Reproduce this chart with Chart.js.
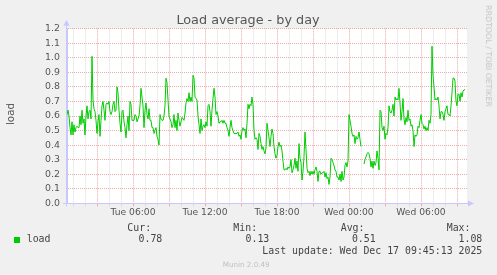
<!DOCTYPE html>
<html lang="en">
<head>
    <meta charset="UTF-8">
    <title>Load average - by day</title>
    <script src="https://cdn.jsdelivr.net/npm/chart.js"></script>
    <style>
        body {
            margin: 0;
            background-color: #f0f0f0;
        }
        .graph {
            position: relative;
            width: 497px;
            height: 275px;
            font-family: "DejaVu Sans", sans-serif;
            color: #555;
        }
        .graph canvas {
            position: absolute;
            left: 0;
            top: 0;
        }
        .txt {
            position: absolute;
            white-space: nowrap;
            line-height: 1;
        }
        .mono {
            font-family: "DejaVu Sans Mono", monospace;
            font-size: 9.9px;
            color: #444;
        }
        .right {
            text-align: right;
        }
    </style>
</head>
<body>
    <div class="graph">
        <canvas id="loadChart" width="497" height="275"></canvas>

        <!-- title and side texts -->
        <div class="txt" style="left:248px; top:14.2px; font-size:12.8px; transform:translateX(-50%);">Load average - by day</div>
        <div class="txt" style="left:9.5px; top:114px; font-size:10.3px; transform:translate(-50%,-50%) rotate(-90deg);">load</div>
        <div class="txt" style="left:488px; top:56px; font-size:7.9px; color:#c4c4c4; transform:translate(-50%,-50%) rotate(90deg);">RRDTOOL / TOBI OETIKER</div>

        <!-- legend -->
        <div style="position:absolute; left:14px; top:236.5px; width:6px; height:6px; background:#00cc00;"></div>
        <div class="txt mono" style="left:26.7px; top:234.3px;">load</div>
        <div class="txt mono" style="left:127.3px; top:222.6px;">Cur:</div>
        <div class="txt mono" style="left:233.3px; top:222.6px;">Min:</div>
        <div class="txt mono" style="left:340.7px; top:222.6px;">Avg:</div>
        <div class="txt mono" style="left:446.7px; top:222.6px;">Max:</div>
        <div class="txt mono right" style="right:334.7px; top:234.3px;">0.78</div>
        <div class="txt mono right" style="right:227.7px; top:234.3px;">0.13</div>
        <div class="txt mono right" style="right:121.3px; top:234.3px;">0.51</div>
        <div class="txt mono right" style="right:14.7px; top:234.3px;">1.08</div>
        <div class="txt mono right" style="right:14.7px; top:246.1px;">Last update: Wed Dec 17 09:45:13 2025</div>
        <div class="txt" style="left:222.7px; top:261.2px; font-size:7.2px; color:#c0c0c0;">Munin 2.0.49</div>
    </div>

    <script>
        // 5-minute samples, first one at Tue 00:30
        const startHour = 0.5;
        const stepHours = 5 / 60;
        const loadValues = [
            0.61, 0.64, 0.60, 0.52, 0.47, 0.56, 0.47, 0.54, 0.49, 0.52,
            0.53, 0.52, 0.52, 0.60, 0.54, 0.64, 0.55, 0.58, 0.47, 0.60,
            0.67, 0.58, 0.63, 0.64, 0.58, 1.01, 0.71, 0.65, 0.63, 0.57,
            0.48, 0.56, 0.61, 0.46, 0.57, 0.67, 0.70, 0.64, 0.57, 0.68,
            0.69, 0.68, 0.70, 0.63, 0.61, 0.63, 0.68, 0.70, 0.63, 0.64,
            0.80, 0.76, 0.64, 0.55, 0.49, 0.63, 0.64, 0.56, 0.52, 0.45,
            0.54, 0.60, 0.50, 0.70, 0.68, 0.57, 0.57, 0.57, 0.61, 0.60,
            0.56, 0.58, 0.60, 0.67, 0.79, 0.73, 0.67, 0.52, 0.64, 0.69,
            0.61, 0.58, 0.65, 0.57, 0.57, 0.52, 0.52, 0.48, 0.50, 0.52,
            0.46, 0.44, 0.40, 0.61, 0.58, 0.57, 0.57, 0.60, 0.67, 0.86,
            // Tue ~08:50
            0.83, 0.71, 0.60, 0.58, 0.56, 0.52, 0.54, 0.61, 0.52, 0.57,
            0.50, 0.62, 0.57, 0.53, 0.56, 0.59, 0.58, 0.57, 0.62, 0.69,
            0.72, 0.70, 0.76, 0.70, 0.73, 0.70, 0.88, 0.86, 0.73, 0.72,
            0.71, 0.60, 0.54, 0.48, 0.58, 0.50, 0.53, 0.54, 0.52, 0.56,
            0.53, 0.67, 0.68, 0.63, 0.53, 0.64, 0.72, 0.79, 0.73, 0.61,
            0.63, 0.60, 0.55, 0.56, 0.56, 0.57, 0.55, 0.57, 0.55, 0.55,
            0.52, 0.50, 0.46, 0.52, 0.57, 0.52, 0.50, 0.48, 0.48, 0.48,
            0.48, 0.49, 0.46, 0.47, 0.44, 0.50, 0.52, 0.50, 0.51, 0.45,
            0.55, 0.68, 0.65, 0.68, 0.67, 0.73, 0.68, 0.50, 0.44, 0.45,
            0.44, 0.37, 0.48, 0.46, 0.41, 0.37, 0.39, 0.36, 0.34, 0.38,
            // Tue ~17:10
            0.55, 0.50, 0.45, 0.39, 0.46, 0.51, 0.48, 0.39, 0.34, 0.31,
            0.33, 0.39, 0.42, 0.39, 0.40, 0.36, 0.29, 0.23, 0.23, 0.24,
            0.23, 0.25, 0.24, 0.25, 0.30, 0.21, 0.23, 0.26, 0.31, 0.24,
            0.29, 0.22, 0.41, 0.31, 0.28, 0.16, 0.22, 0.32, 0.49, 0.37,
            0.24, 0.21, 0.22, 0.19, 0.22, 0.20, 0.22, 0.20, 0.23, 0.25,
            0.22, 0.15, 0.22, 0.22, 0.20, 0.21, 0.21, 0.22, 0.18, 0.21,
            0.17, 0.18, 0.13, 0.18, 0.31, 0.30, 0.28, 0.26, 0.23, 0.22,
            0.18, 0.18, 0.16, 0.20, 0.15, 0.22, 0.16, 0.18, 0.26, 0.28,
            0.25, 0.29, 0.61, 0.57, 0.53, 0.48, 0.46, 0.47, 0.41, 0.46,
            0.44, 0.45, 0.49, 0.44, 0.39, null, null,
            // Wed ~01:15
            0.27, 0.30, 0.32, 0.34, 0.35, 0.34, 0.31, 0.25, 0.29, 0.24,
            0.29, 0.26, 0.28, 0.36, 0.31, 0.23, 0.64, 0.63, 0.52, 0.50,
            0.53, 0.44, 0.48, 0.47, 0.52, 0.67, 0.63, 0.62, 0.64, 0.68,
            0.60, 0.73, 0.71, 0.72, 0.71, 0.79, 0.69, 0.57, 0.63, 0.72,
            0.58, 0.54, 0.59, 0.56, 0.64, 0.57, 0.58, 0.53, 0.54, 0.50,
            0.39, 0.47, 0.46, 0.47, 0.53, 0.52, 0.57, 0.61, 0.55, 0.54,
            0.51, 0.53, 0.50, 0.52, 0.50, 0.57, 0.55, 0.61, 1.08, 0.88,
            0.80, 0.71, 0.72, 0.71, 0.73, 0.67, 0.58, 0.63, 0.63, 0.61,
            0.57, 0.63, 0.65, 0.67, 0.61, 0.61, 0.60, 0.67, 0.76, 0.86,
            0.86, 0.84, 0.70, 0.67, 0.75, 0.75, 0.70, 0.76, 0.73, 0.77,
            0.78, 0.78
        ];

        const xMin = 0.5;       // Tue 00:30
        const xMax = 33.833;    // Wed 09:50
        const tickHours = [6, 12, 18, 24, 30];
        const tickLabels = ['Tue 06:00', 'Tue 12:00', 'Tue 18:00', 'Wed 00:00', 'Wed 06:00'];
        const yMax = 1.2;
        const yStep = 0.1;

        const majorGrid = '#eeaaaa';
        const minorGrid = '#dadada';
        const axisColor = '#c8c8ff';

        // grey page, white plot area, axis arrows
        const munFrame = {
            id: 'munFrame',
            beforeDraw(chart) {
                const { ctx, chartArea: a } = chart;
                ctx.save();
                ctx.fillStyle = '#f0f0f0';
                ctx.fillRect(0, 0, chart.width, chart.height);
                ctx.fillStyle = '#ffffff';
                ctx.fillRect(a.left, a.top, a.right - a.left, a.bottom - a.top);
                ctx.restore();
            },
            afterDraw(chart) {
                const { ctx, chartArea: a } = chart;
                const ax = Math.round(a.left) - 0.5;
                const ay = Math.round(a.bottom) + 0.5;
                ctx.save();
                ctx.strokeStyle = axisColor;
                ctx.fillStyle = axisColor;
                ctx.lineWidth = 1;
                ctx.beginPath();
                ctx.moveTo(a.left - 4, ay);
                ctx.lineTo(a.right + 2, ay);
                ctx.moveTo(ax, a.bottom + 3);
                ctx.lineTo(ax, a.top - 3);
                ctx.stroke();
                // y arrow
                ctx.beginPath();
                ctx.moveTo(ax - 3, a.top - 3);
                ctx.lineTo(ax + 3, a.top - 3);
                ctx.lineTo(ax, a.top - 9);
                ctx.closePath();
                ctx.fill();
                // x arrow
                ctx.beginPath();
                ctx.moveTo(a.right + 1, ay - 3);
                ctx.lineTo(a.right + 1, ay + 3);
                ctx.lineTo(a.right + 7, ay);
                ctx.closePath();
                ctx.fill();
                ctx.restore();
            }
        };

        const points = loadValues.map((v, i) => ({ x: startHour + i * stepHours, y: v }));

        new Chart(document.getElementById('loadChart'), {
            type: 'line',
            data: {
                datasets: [{
                    label: 'load',
                    data: points,
                    borderColor: '#00cc00',
                    borderWidth: 1,
                    pointRadius: 0,
                    tension: 0,
                    spanGaps: false
                }]
            },
            options: {
                responsive: false,
                animation: false,
                events: [],
                layout: {
                    padding: { left: 0, right: 30, top: 28.7, bottom: 59.7 }
                },
                plugins: {
                    legend: { display: false },
                    tooltip: { enabled: false }
                },
                scales: {
                    x: {
                        type: 'linear',
                        min: xMin,
                        max: xMax,
                        afterFit: s => { s.height = 12; },
                        afterBuildTicks: s => {
                            const t = [];
                            for (let h = Math.ceil(xMin); h <= Math.floor(xMax); h++) t.push({ value: h });
                            s.ticks = t;
                        },
                        grid: {
                            color: c => (Math.round(c.tick.value) % 3 === 0 ? majorGrid : minorGrid),
                            tickColor: c => (Math.round(c.tick.value) % 3 === 0 ? majorGrid : minorGrid),
                            tickLength: 3,
                            tickBorderDash: []
                        },
                        border: { color: axisColor, dash: [1, 1] },
                        ticks: {
                            autoSkip: false,
                            maxRotation: 0,
                            padding: 1,
                            color: '#555',
                            font: { family: 'DejaVu Sans', size: 9.2 },
                            callback: v => {
                                const k = tickHours.indexOf(Math.round(v));
                                return k >= 0 ? tickLabels[k] : '';
                            }
                        }
                    },
                    y: {
                        min: 0,
                        max: yMax,
                        afterFit: s => { s.width = 67; },
                        grid: {
                            color: majorGrid,
                            drawTicks: false
                        },
                        border: { color: axisColor, dash: [1, 1] },
                        ticks: {
                            stepSize: yStep,
                            padding: 7,
                            color: '#555',
                            font: { family: 'DejaVu Sans', size: 9.4 },
                            callback: v => v.toFixed(1)
                        }
                    }
                }
            },
            plugins: [munFrame]
        });
    </script>
</body>
</html>
